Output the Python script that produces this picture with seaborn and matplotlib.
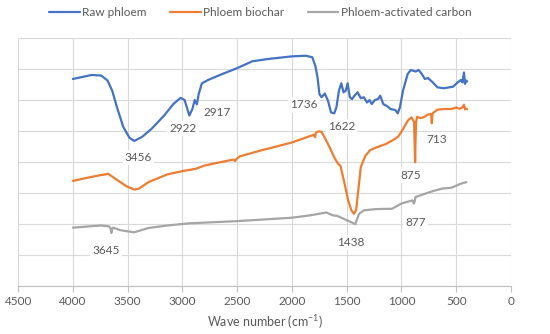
import numpy as np
import pandas as pd
import matplotlib
matplotlib.use('Agg')
import matplotlib.pyplot as plt
import seaborn as sns

# Raw phloem
raw_wn = [4000, 3828, 3741, 3684, 3641, 3598, 3540, 3483, 3440, 3368, 3282, 3167, 3080, 3017, 2980,
          2937, 2908, 2888, 2868, 2851, 2822, 2764, 2650, 2500, 2362, 2229, 2000, 1871, 1814, 1786,
          1766, 1749, 1729, 1700, 1671, 1643, 1614, 1594, 1571, 1549, 1529, 1509, 1491, 1471, 1451,
          1429, 1400, 1371, 1343, 1314, 1291, 1271, 1243, 1214, 1194, 1166, 1129, 1100, 1057, 1034,
          1014, 986, 943, 914, 871, 843, 814, 786, 757, 714, 671, 614, 529, 486, 457, 443, 429,
          420, 409, 400]
raw_ab = [6.68, 6.81, 6.79, 6.63, 6.30, 5.77, 5.13, 4.78, 4.68, 4.81, 5.07, 5.50, 5.88, 6.07, 6.00,
          5.50, 5.72, 6.00, 5.86, 6.20, 6.54, 6.65, 6.82, 7.03, 7.25, 7.32, 7.41, 7.43, 7.38, 7.10,
          6.73, 6.19, 6.09, 6.21, 5.98, 5.60, 5.57, 5.76, 6.30, 6.54, 6.25, 6.30, 6.54, 6.09, 6.03,
          6.14, 6.25, 6.06, 6.09, 5.92, 6.00, 5.87, 6.00, 6.03, 6.14, 5.87, 5.80, 5.71, 5.68, 5.57,
          5.76, 6.30, 6.84, 6.97, 6.92, 6.97, 6.84, 6.68, 6.71, 6.57, 6.41, 6.38, 6.43, 6.57, 6.65,
          6.57, 6.89, 6.52, 6.63, 6.60]

# Phloem biochar
bio_wn = [4000, 3856, 3770, 3741, 3700, 3678, 3613, 3512, 3440, 3397, 3310, 3138, 2994, 2879, 2793,
          2534, 2520, 2505, 2477, 2276, 2229, 2000, 1800, 1790, 1780, 1757, 1729, 1686, 1643, 1614,
          1580, 1557, 1529, 1486, 1457, 1434, 1414, 1394, 1371, 1329, 1286, 1229, 1143, 1071, 1029,
          986, 943, 909, 885, 878, 875, 872, 866, 857, 829, 800, 757, 729, 723, 716, 671, 614, 543,
          500, 471, 443, 429, 420, 409, 400]
bio_ab = [3.39, 3.50, 3.56, 3.58, 3.60, 3.62, 3.46, 3.22, 3.11, 3.14, 3.35, 3.60, 3.71, 3.78, 3.89,
          4.08, 4.03, 4.10, 4.18, 4.38, 4.42, 4.63, 4.88, 4.80, 4.95, 4.99, 4.97, 4.69, 4.38, 4.15,
          3.95, 3.88, 3.45, 2.76, 2.44, 2.33, 2.44, 3.09, 3.84, 4.20, 4.38, 4.47, 4.58, 4.72, 4.82,
          5.06, 5.33, 5.44, 5.30, 4.40, 3.99, 4.60, 5.30, 5.46, 5.42, 5.44, 5.53, 5.55, 5.25, 5.57,
          5.69, 5.71, 5.71, 5.76, 5.72, 5.76, 5.85, 5.70, 5.72, 5.70]

# Phloem-activated carbon
ac_wn = [4000, 3856, 3741, 3670, 3655, 3649, 3640, 3632, 3569, 3440, 3310, 3138, 2937, 2506, 2003,
         1829, 1686, 1629, 1586, 1500, 1443, 1423, 1386, 1343, 1229, 1086, 1000, 900, 886, 880,
         871, 829, 714, 629, 543, 457, 406]
ac_ab = [1.88, 1.92, 1.95, 1.92, 1.85, 1.71, 1.85, 1.88, 1.80, 1.73, 1.87, 1.95, 2.02, 2.09, 2.20,
         2.28, 2.37, 2.28, 2.26, 2.12, 2.03, 1.99, 2.33, 2.44, 2.48, 2.49, 2.66, 2.76, 2.66, 2.72,
         2.87, 2.92, 3.06, 3.14, 3.17, 3.30, 3.35]

series_names = ['Raw phloem', 'Phloem biochar', 'Phloem-activated carbon']
colors = ['#4472C4', '#ED7D31', '#A5A5A5']

# peak labels: text, wave number, y position
peak_text = ['3456', '2922', '2917', '1736', '1622', '713', '875', '3645', '1438', '877']
peak_wn = [3400, 2994, 2678, 1891, 1549, 677, 914, 3700, 1466, 871]
peak_y = [4.15, 5.07, 5.61, 5.84, 5.14, 4.72, 3.58, 1.13, 1.39, 2.06]

xticks = [4500, 4000, 3500, 3000, 2500, 2000, 1500, 1000, 500, 0]

frames = []
for name, w, a in zip(series_names, [raw_wn, bio_wn, ac_wn], [raw_ab, bio_ab, ac_ab]):
    frames.append(pd.DataFrame({'wn': w, 'ab': a, 'series': name}))
df = pd.concat(frames, ignore_index=True)

sns.set_style('white')
plt.rcParams['font.family'] = ['Lato', 'DejaVu Sans']
plt.rcParams['mathtext.fontset'] = 'custom'
plt.rcParams['mathtext.rm'] = 'Lato'

fig = plt.figure(figsize=(5.5, 3.34), dpi=100)
ax = fig.add_axes([0.033, 0.144, 0.896, 0.742])

sns.lineplot(data=df, x='wn', y='ab', hue='series', palette=colors, sort=False,
             estimator=None, linewidth=1.6, ax=ax, legend=True)

ax.set_xlim(4500, 0)
ax.set_ylim(0, 8)
ax.set_xticks(xticks)
ax.set_yticks(np.arange(0, 9, 1))
ax.set_yticklabels([])
ax.grid(True, color='#d9d9d9', linewidth=0.8)
ax.set_axisbelow(True)
for s in ['top', 'right', 'left']:
    ax.spines[s].set_visible(False)
ax.spines['bottom'].set_color('#bfbfbf')
ax.tick_params(axis='x', colors='#bfbfbf', labelcolor='#595959', labelsize=8.5,
               length=4, direction='out', bottom=True)
ax.tick_params(axis='y', length=0)
ax.set_xlabel('Wave number (cm$^{-1}$)', color='#595959', fontsize=9, labelpad=4)
ax.set_ylabel('')

for t, w, y in zip(peak_text, peak_wn, peak_y):
    ax.text(w, y, t, ha='center', va='center', fontsize=8.5, color='#595959',
            bbox=dict(facecolor='white', edgecolor='none', pad=1.5))

handles, labels = ax.get_legend_handles_labels()
ax.legend(handles, labels, loc='center', bbox_to_anchor=(0.473, 0.962),
          bbox_transform=fig.transFigure, ncol=3, frameon=False, fontsize=8.5,
          handlelength=2.6, columnspacing=2.0, handletextpad=0.2, labelcolor='#595959')

fig.savefig('out.png', dpi=100)
